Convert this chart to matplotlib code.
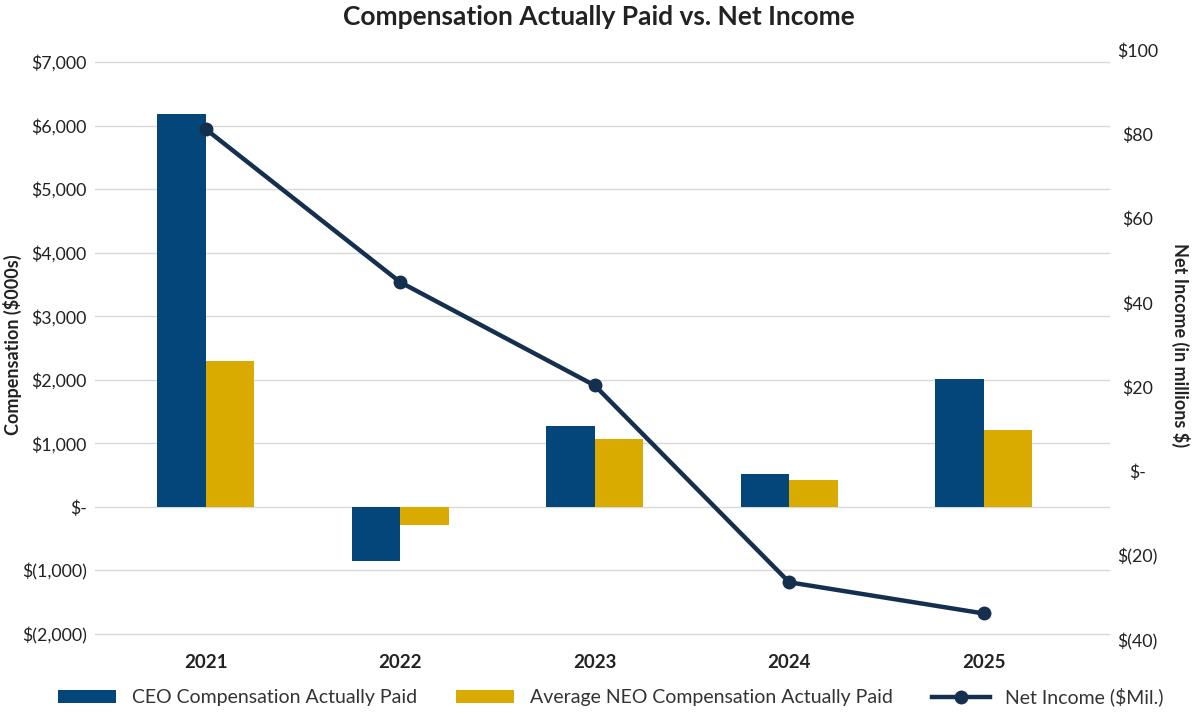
import numpy as np
import matplotlib
matplotlib.use("Agg")
import matplotlib.pyplot as plt
from matplotlib.ticker import FuncFormatter

plt.rcParams["font.family"] = ["Lato", "DejaVu Sans"]

# --- data
years = ["2021", "2022", "2023", "2024", "2025"]
ceo_cap = [6180, -850, 1280, 510, 2010]        # $000s
neo_cap = [2300, -280, 1070, 420, 1210]        # $000s
net_income = [81.2, 44.9, 20.4, -26.3, -33.7]  # $ millions

CEO_C = "#05467a"
NEO_C = "#d9aa00"
LINE_C = "#15304f"
GRID_C = "#d9d9d9"
TXT = "#222222"

fig = plt.figure(figsize=(11.98, 7.14), dpi=100)
ax = fig.add_axes([95 / 1198, 74 / 714, 1015 / 1198, 590 / 714])
ax2 = ax.twinx()

x = np.arange(len(years))
w = 0.25
ax.bar(x - w / 2, ceo_cap, w, color=CEO_C, label="CEO Compensation Actually Paid", zorder=2)
ax.bar(x + w / 2, neo_cap, w, color=NEO_C, label="Average NEO Compensation Actually Paid", zorder=2)
ax2.plot(x, net_income, color=LINE_C, lw=3.2, marker="o", ms=9,
         label="Net Income ($Mil.)", zorder=3)


def money_k(v, pos):
    if abs(v) < 1e-9:
        return "$-"
    if v < 0:
        return "$({:,.0f})".format(-v)
    return "${:,.0f}".format(v)


ax.set_xlim(-0.57, 4.65)
ax.set_ylim(-2094, 7189)
ax.set_yticks(np.arange(-2000, 7001, 1000))
ax.yaxis.set_major_formatter(FuncFormatter(money_k))
ax.grid(axis="y", color=GRID_C, lw=1, zorder=0)
ax.set_axisbelow(True)

ax2.set_ylim(-40, 100)
ax2.set_yticks(np.arange(-40, 101, 20))
ax2.yaxis.set_major_formatter(FuncFormatter(money_k))

ax.set_xticks(x)
ax.set_xticklabels(years, fontweight="bold", fontsize=13.5, color=TXT)
ax.tick_params(axis="x", length=0, pad=10)
ax.tick_params(axis="y", length=0, pad=6, labelsize=12.8, labelcolor=TXT)
ax2.tick_params(axis="y", length=0, pad=20, labelsize=12.8, labelcolor=TXT)
for lab in ax2.get_yticklabels():
    lab.set_horizontalalignment("center")

for a in (ax, ax2):
    for s in a.spines.values():
        s.set_visible(False)

ax.set_ylabel("Compensation ($000s)", fontweight="bold", fontsize=13, color=TXT, va="center")
ax.yaxis.set_label_coords(-0.081, 0.5)
ax2.set_ylabel("Net Income (in millions $)", fontweight="bold", fontsize=13,
               color=TXT, rotation=-90, va="center")
ax2.yaxis.set_label_coords(1.069, 0.5)

fig.suptitle("Compensation Actually Paid vs. Net Income", fontweight="bold",
             fontsize=19, color=TXT, y=0.993)

h1, l1 = ax.get_legend_handles_labels()
h2, l2 = ax2.get_legend_handles_labels()
fig.legend(h1 + h2, l1 + l2, loc="center", bbox_to_anchor=(0.51, 17 / 714), ncol=3,
           frameon=False, fontsize=14, handlelength=3.0, columnspacing=2.0,
           handletextpad=0.8, labelcolor="#333333")

fig.savefig("out.png", dpi=100)
